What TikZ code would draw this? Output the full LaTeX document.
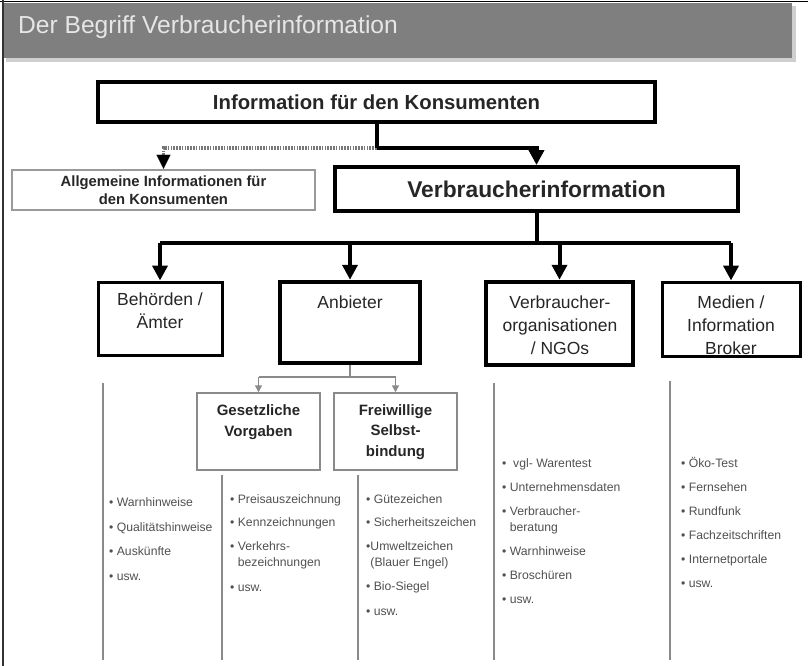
\documentclass[tikz,border=0pt]{standalone}
\usepackage{fontspec}
\setmainfont{Liberation Sans}
\usetikzlibrary{arrows.meta}
\definecolor{bannergray}{HTML}{7F7F7F}
\definecolor{shadowgray}{HTML}{CFCFCF}
\definecolor{titlecol}{HTML}{E6E6E6}
\definecolor{txtdark}{HTML}{262626}
\definecolor{listgray}{HTML}{505050}
\definecolor{linegray}{HTML}{8A8A8A}
\definecolor{dotgray}{HTML}{777777}
\definecolor{boxgray}{HTML}{9A9A9A}
\tikzset{
  box/.style={draw=black, inner sep=0pt, text=txtdark},
  heavybox/.style={box, line width=4.5pt},
  midbox/.style={box, line width=3pt},
  greybox/.style={draw=boxgray, line width=2.5pt, inner sep=0pt, text=txtdark},
  subbox/.style={draw=linegray, line width=1.5pt, inner sep=0pt},
  lbl/.style={inner sep=0pt, align=center, text=txtdark, font=\fontsize{17.5}{23}\selectfont},
  sublbl/.style={inner sep=0pt, align=center, text=txtdark, font=\bfseries\fontsize{15}{20.5}\selectfont},
  mainline/.style={line width=4pt, black},
  bigtip/.style={-{Triangle[width=15pt,length=15pt]}},
  smalltip/.style={-{Triangle[width=7pt,length=7pt]}},
  subline/.style={line width=1.5pt, linegray},
  colline/.style={line width=2pt, linegray},
  lst/.style={anchor=west, inner sep=0pt, text=listgray, font=\fontsize{12.2}{14}\selectfont, text height=9pt, text depth=3pt},
}
\begin{document}
\begin{tikzpicture}[x=1pt,y=-1pt]
\useasboundingbox (0,0) rectangle (808,666);
% frame and banner
\fill[shadowgray] (6,6) rectangle (796,62);
\fill[bannergray] (3,3) rectangle (792,58);
\draw[line width=1.5pt, black] (0,1.5) -- (808,1.5);
\draw[line width=2pt, black!80] (3,0) -- (3,666);
\node[anchor=base west, inner sep=0pt, text=titlecol, font=\fontsize{24.6}{30}\selectfont] (title) at (18,34) {Der Begriff Verbraucherinformation};

% top level
\node[box, line width=4pt, minimum width=557pt, minimum height=40pt, font=\bfseries\fontsize{20.3}{24}\selectfont] (ik) at (376.5,102) {Information für den Konsumenten};
\node[greybox, minimum width=303pt, minimum height=40pt, align=center, font=\bfseries\fontsize{14.8}{18}\selectfont] (ai) at (163.5,190) {Allgemeine Informationen für\\den Konsumenten};
\node[box, line width=4pt, minimum width=403pt, minimum height=44pt, font=\bfseries\fontsize{22.8}{26}\selectfont] (vi) at (536.5,189) {Verbraucherinformation};

\coordinate (lvl1) at (0,148);
\coordinate (lvl2) at (0,243);
\coordinate (lvl3) at (0,377);

\draw[line width=3.5pt, dotgray, dash pattern=on 1.6pt off 1.2pt] (ik.south |- lvl1) -| ([yshift=13pt]ai.north);
\draw[line width=0.1pt, -{Triangle[width=14pt,length=14pt]}, black] ([yshift=14pt]ai.north) -- (ai.north);
\draw[mainline] (ik.south) -- (ik.south |- lvl1);
\draw[mainline, bigtip] (ik.south |- lvl1) -| (vi.north);

% second level texts
\node[lbl] (behtxt) at (160,311) {Behörden /\\Ämter};
\node[lbl] (anbtxt) at (350,302) {Anbieter};
\node[lbl] (vortxt) at (560,325) {Verbraucher-\\organisationen\\/ NGOs};
\node[lbl] (medtxt) at (731,325) {Medien /\\Information\\Broker};
% second level boxes
\node[midbox, minimum width=124pt, minimum height=73pt] (beh) at (160,318.5) {};
\node[heavybox, minimum width=140pt, minimum height=81pt] (anb) at (350,322.5) {};
\node[heavybox, minimum width=147pt, minimum height=83pt] (vor) at (559.5,323.5) {};
\node[midbox, minimum width=138pt, minimum height=74pt] (med) at (731,319) {};

\draw[mainline] (vi.south) -- (vi.south |- lvl2);
\draw[mainline] (beh.north |- lvl2) -- (med.north |- lvl2);
\draw[mainline, bigtip] (beh.north |- lvl2) -- (beh.north);
\draw[mainline, bigtip] (anb.north |- lvl2) -- (anb.north);
\draw[mainline, bigtip] (vor.north |- lvl2) -- (vor.north);
\draw[mainline, bigtip] (med.north |- lvl2) -- (med.north);

% Anbieter sub boxes
\node[subbox, minimum width=123pt, minimum height=77pt] (ges) at (258.5,431.5) {};
\node[subbox, minimum width=123pt, minimum height=77pt] (frei) at (395.5,431.5) {};
\node[sublbl] (gestxt) at (258.5,422) {Gesetzliche\\Vorgaben};
\node[sublbl] (freitxt) at (395.5,432) {Freiwillige\\Selbst-\\bindung};
\draw[subline] (anb.south) -- (anb.south |- lvl3);
\draw[subline] (ges.north |- lvl3) -- (frei.north |- lvl3);
\draw[subline, smalltip] (ges.north |- lvl3) -- (ges.north);
\draw[subline, smalltip] (frei.north |- lvl3) -- (frei.north);

% column lines
\coordinate (c1t) at (103,383); \coordinate (c1b) at (103,660);
\coordinate (c2t) at (222,475); \coordinate (c2b) at (222,660);
\coordinate (c3t) at (358,475); \coordinate (c3b) at (358,660);
\coordinate (c4t) at (494,383); \coordinate (c4b) at (494,660);
\coordinate (c5t) at (670,381); \coordinate (c5b) at (670,660);
\draw[colline] (c1t) -- (c1b);
\draw[colline] (c2t) -- (c2b);
\draw[colline] (c3t) -- (c3b);
\draw[colline] (c4t) -- (c4b);
\draw[colline] (c5t) -- (c5b);

% lists
\node[lst] (a1) at (109,503) {\textbullet\ Warnhinweise};
\node[lst] (a2) at (109,528) {\textbullet\ Qualitätshinweise};
\node[lst] (a3) at (109,552) {\textbullet\ Auskünfte};
\node[lst] (a4) at (109,577) {\textbullet\ usw.};

\node[lst] (b1) at (230,500) {\textbullet\ Preisauszeichnung};
\node[lst] (b2) at (230,523) {\textbullet\ Kennzeichnungen};
\node[lst] (b3) at (230,547) {\textbullet\ Verkehrs-};
\node[lst] (b3b) at (230,563) {\phantom{\textbullet\ }bezeichnungen};
\node[lst] (b4) at (230,588) {\textbullet\ usw.};

\node[lst] (d1) at (366,500) {\textbullet\ Gütezeichen};
\node[lst] (d2) at (366,523) {\textbullet\ Sicherheitszeichen};
\node[lst] (d3) at (366,547) {\textbullet Umweltzeichen};
\node[lst] (d3b) at (366,563) {\phantom{\textbullet}(Blauer Engel)};
\node[lst] (d4) at (366,587) {\textbullet\ Bio-Siegel};
\node[lst] (d5) at (366,612) {\textbullet\ usw.};

\node[lst] (e1) at (502,464) {\textbullet\ \ vgl- Warentest};
\node[lst] (e2) at (502,488) {\textbullet\ Unternehmensdaten};
\node[lst] (e3) at (502,512) {\textbullet\ Verbraucher-};
\node[lst] (e3b) at (502,528) {\phantom{\textbullet\ }beratung};
\node[lst] (e4) at (502,552) {\textbullet\ Warnhinweise};
\node[lst] (e5) at (502,576) {\textbullet\ Broschüren};
\node[lst] (e6) at (502,600) {\textbullet\ usw.};

\node[lst] (f1) at (681,464) {\textbullet\ Öko-Test};
\node[lst] (f2) at (681,488) {\textbullet\ Fernsehen};
\node[lst] (f3) at (681,512) {\textbullet\ Rundfunk};
\node[lst] (f4) at (681,536) {\textbullet\ Fachzeitschriften};
\node[lst] (f5) at (681,560) {\textbullet\ Internetportale};
\node[lst] (f6) at (681,584) {\textbullet\ usw.};
\end{tikzpicture}
\end{document}
